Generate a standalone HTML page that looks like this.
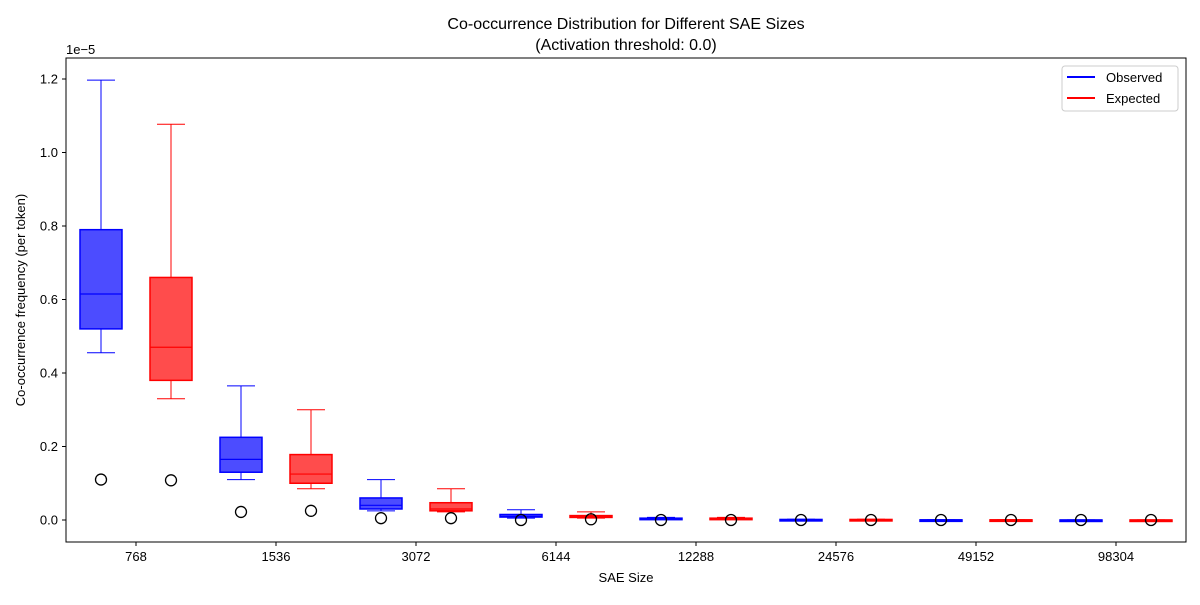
<!DOCTYPE html>
<html><head><meta charset="utf-8"><style>
body{margin:0;background:#fff}
svg text{font-family:"Liberation Sans","DejaVu Sans",sans-serif;fill:#000}
</style></head><body>
<svg id="chart" width="1200" height="600">
<rect width="1200" height="600" fill="#fff"/>
<text x="626" y="29" font-size="16" text-anchor="middle">Co-occurrence Distribution for Different SAE Sizes</text>
<text x="626" y="50" font-size="16" text-anchor="middle">(Activation threshold: 0.0)</text>
<text x="66" y="54" font-size="13">1e−5</text>
<text x="626" y="582" font-size="13" text-anchor="middle">SAE Size</text>
<text transform="translate(25,300) rotate(-90)" font-size="13" text-anchor="middle">Co-occurrence frequency (per token)</text>
<g id="marks"></g>
<g id="axes"></g>
<rect x="66" y="58" width="1120" height="484" fill="none" stroke="#000" stroke-width="1"/>
<g>
<rect x="1062" y="66" width="116" height="45" rx="3" fill="#fff" stroke="#ccc"/>
<line x1="1067" y1="77" x2="1095" y2="77" stroke="blue" stroke-width="2"/>
<text x="1106" y="82" font-size="13">Observed</text>
<line x1="1067" y1="98" x2="1095" y2="98" stroke="red" stroke-width="2"/>
<text x="1106" y="103" font-size="13">Expected</text>
</g>
</svg>
<script>
const categories=["768","1536","3072","6144","12288","24576","49152","98304"];
// values in units of 1e-5: [whiskerLow, q1, median, q3, whiskerHigh]
const observedStats=[[0.455,0.52,0.615,0.79,1.197],[0.11,0.13,0.165,0.225,0.365],[0.025,0.03,0.04,0.06,0.11],[0.005,0.008,0.01,0.015,0.028],[0.002,0.003,0.004,0.005,0.007],[0.0005,0.001,0.0012,0.0015,0.002],[0.0001,0.0002,0.0003,0.0004,0.0006],[0.0,0.0001,0.0001,0.0001,0.0002]];
const expectedStats=[[0.33,0.38,0.47,0.66,1.077],[0.085,0.10,0.125,0.178,0.30],[0.022,0.025,0.03,0.047,0.085],[0.005,0.007,0.009,0.012,0.022],[0.002,0.003,0.004,0.005,0.007],[0.0005,0.001,0.0012,0.0015,0.002],[0.0001,0.0002,0.0003,0.0004,0.0006],[0.0,0.0001,0.0001,0.0001,0.0002]];
const observedOutliers=[0.11,0.022,0.005,0.0,0.0,0.0,0.0,0.0];
const expectedOutliers=[0.108,0.025,0.005,0.002,0.0,0.0,0.0,0.0];
const yTicks=[0.0,0.2,0.4,0.6,0.8,1.0,1.2];
const NS="http://www.w3.org/2000/svg";
const y=v=>520-v*(441/1.2);
const xc=i=>136+i*140;
function mk(t,a,p){const e=document.createElementNS(NS,t);for(const k in a)e.setAttribute(k,a[k]);p.appendChild(e);return e;}
const marks=document.getElementById('marks'),axes=document.getElementById('axes');
function box(cx,s,col,fill,name){
  const g=mk('g',{},marks);
  
  
  const w=42,h=14;
  mk('line',{x1:cx,y1:y(s[0]),x2:cx,y2:y(s[1]),stroke:col},g);
  mk('line',{x1:cx,y1:y(s[3]),x2:cx,y2:y(s[4]),stroke:col},g);
  mk('line',{x1:cx-h,y1:y(s[0]),x2:cx+h,y2:y(s[0]),stroke:col},g);
  mk('line',{x1:cx-h,y1:y(s[4]),x2:cx+h,y2:y(s[4]),stroke:col},g);
  const top=y(s[3]),bot=y(s[1]);
  mk('rect',{x:cx-w/2,y:top,width:w,height:Math.max(bot-top,1.5),fill:fill,stroke:col,'stroke-width':1.5},g);
  mk('line',{x1:cx-w/2,y1:y(s[2]),x2:cx+w/2,y2:y(s[2]),stroke:col,'stroke-width':1.2},g);
}
categories.forEach((c,i)=>{
  box(xc(i)-35,observedStats[i],'blue','rgba(0,0,255,0.7)','box-observed-'+c);
  box(xc(i)+35,expectedStats[i],'red','rgba(255,0,0,0.7)','box-expected-'+c);
  const o1=mk('circle',{cx:xc(i)-35,cy:y(observedOutliers[i]),r:5.5,fill:'none',stroke:'#000','stroke-width':1.3},marks);
  
  
  const o2=mk('circle',{cx:xc(i)+35,cy:y(expectedOutliers[i]),r:5.5,fill:'none',stroke:'#000','stroke-width':1.3},marks);
  
  
  mk('line',{x1:xc(i),y1:542,x2:xc(i),y2:546,stroke:'#000'},axes);
  const t=mk('text',{x:xc(i),y:561,'font-size':13,'text-anchor':'middle'},axes);
  t.textContent=c;
  
  
});
yTicks.forEach(v=>{
  mk('line',{x1:62,y1:y(v),x2:66,y2:y(v),stroke:'#000'},axes);
  const t=mk('text',{x:58,y:y(v)+4.5,'font-size':13,'text-anchor':'end'},axes);
  t.textContent=v.toFixed(1);
  
  
});
</script>
</body></html>
